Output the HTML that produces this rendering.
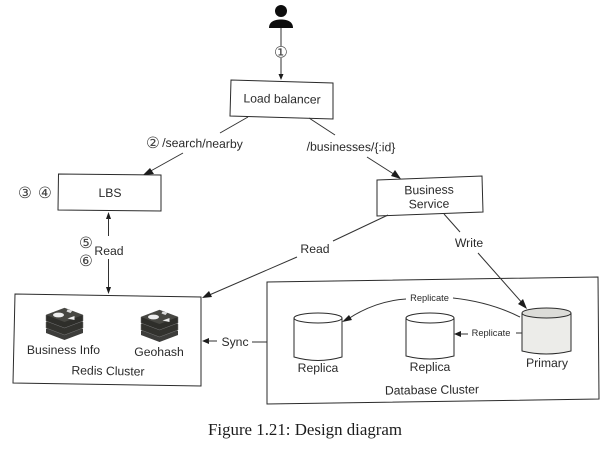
<!DOCTYPE html>
<html><head><meta charset="utf-8"><style>
html,body{margin:0;padding:0;background:#fff}
svg{display:block}
text{font-family:"Liberation Sans",sans-serif;font-size:12.200px;fill:#2a2a2a;text-anchor:middle}
.d{font-family:"DejaVu Sans",sans-serif;font-size:15.500px;fill:#444}
.s{font-size:9.300px}
.c{font-family:"Liberation Serif",serif;font-size:16.500px;fill:#1c1c1c;text-anchor:start}
.b{fill:#fff;stroke:#2c2c2c;stroke-width:1}
.n{fill:none;stroke:#2c2c2c;stroke-width:1}
.l{fill:none;stroke:#333;stroke-width:1}
.a{fill:#1c1c1c}
</style></head><body>
<svg width="615" height="449" viewBox="0 0 615 449" xmlns="http://www.w3.org/2000/svg">
<defs>
<filter id="f" x="-5%" y="-5%" width="110%" height="110%"><feGaussianBlur stdDeviation="0.35"/></filter>
<g id="r">
<path d="M-18.500,6 L0,-1 L18.500,6 V10 L0,17 L-18.500,10Z" fill="#3d3d3a"/>
<path d="M-18.500,-1 L0,-8 L18.500,-1 V5 L0,12 L-18.500,5Z" fill="#33332f" stroke="#777" stroke-width=".5"/>
<path d="M-18.500,-8 L0,-15 L18.500,-8 V-2 L0,5 L-18.500,-2Z" fill="#2f2f2c" stroke="#777" stroke-width=".5"/>
<path d="M-18.500,-8 L0,-15 L18.500,-8 L0,-1Z" fill="#464642"/>
<ellipse cx="-6" cy="-8" rx="5.500" ry="2.400" fill="#eee"/>
<path d="M3,-13.500 l5,1 l-2,2.500 l-4,-1.500Z" fill="#ddd"/>
<path d="M3,-4.500 l7,-2.500 l0,4Z" fill="#eee"/>
</g>
</defs>
<rect width="615" height="449" fill="#fff"/>
<g filter="url(#f)">
<!-- person -->
<circle cx="281" cy="11" r="6" fill="#111"/>
<path d="M269,28 C269,22 274,19.500 281,19.500 C288,19.500 293,22 293,28Z" fill="#111"/>
<path class="l" d="M281,28 V46 M281,58 V74"/>
<path class="a" d="M281,80 l-2.500,-6 h5Z"/>
<text class="d" x="281" y="57.500">①</text>

<!-- boxes -->
<path class="b" d="M231,80 L333,83 L333,119 L230,116Z"/>
<text x="282" y="103" transform="rotate(1 282 100)">Load balancer</text>
<path class="b" d="M58.500,174 L161,175 L161,211 L58,210Z"/>
<text x="110" y="197">LBS</text>
<path class="b" d="M377,180 L482,176 L483,212 L377,216Z"/>
<text x="429" y="194" transform="rotate(-1 429 190)">Business</text>
<text x="429" y="208" transform="rotate(-1 429 204)">Service</text>

<!-- load balancer links -->
<path class="l" d="M248,117 L220,133 M183,153 L148,172.500"/>
<path class="a" d="M143,175 L150,168 L154,174Z"/>
<path class="l" d="M309,118 L335,135 M367,157 L396,175.500"/>
<path class="a" d="M401,179 L391,176 L395,170Z"/>
<text class="d" x="153" y="148">②</text>
<text x="202.500" y="147.500" transform="rotate(1 202 144)">/search/nearby</text>
<text x="351" y="151" transform="rotate(.5 351 147)">/businesses/{:id}</text>
<text class="d" x="25" y="198">③</text>
<text class="d" x="45" y="198">④</text>

<!-- LBS read -->
<path class="a" d="M108.500,212 L106,219 H111Z"/>
<path class="l" d="M108.500,218 V236 M108.500,259 V288"/>
<path class="a" d="M108.500,294 L106,287 H111Z"/>
<text class="d" x="86" y="248">⑤</text>
<text class="d" x="86" y="266">⑥</text>
<text x="109" y="255">Read</text>

<!-- redis -->
<path class="b" d="M15,294 L201,297 L201,386 L13,383Z"/>
<use href="#r" x="64.500" y="323"/>
<use href="#r" x="159.500" y="325"/>
<text x="63.500" y="354">Business Info</text>
<text x="159" y="356">Geohash</text>
<text x="108" y="375" transform="rotate(1 108 371)">Redis Cluster</text>

<!-- BS read -->
<path class="l" d="M388,215 L333,241 M297,257 L207,296"/>
<path class="a" d="M202,298 L209,291 L212,297Z"/>
<text x="315" y="253">Read</text>

<!-- sync -->
<path class="a" d="M202,341 L209,338 V344Z"/>
<path class="l" d="M208,341 H217 M252,342 H267"/>
<text x="235" y="346">Sync</text>

<!-- db cluster -->
<path class="b" d="M267,282 L598,277 L599,399 L267,404Z"/>

<!-- write -->
<path class="l" d="M444,214 L460,232 M478,253 L524,305"/>
<path class="a" d="M527,309 L518,304 L523,299Z"/>
<text x="469" y="247">Write</text>

<!-- cylinders -->
<path class="b" d="M294,318 V357 Q318,364 342,357 V318"/>
<ellipse class="b" cx="318" cy="318" rx="24" ry="5"/>
<path class="b" d="M406,318 V356 Q430,362 454,356 V318"/>
<ellipse class="b" cx="430" cy="318" rx="24" ry="5"/>
<path d="M522,313 V351 Q546,357 571,351 V313" fill="#ecece9" stroke="#2c2c2c" stroke-width="1"/>
<ellipse cx="546.500" cy="313" rx="24.500" ry="5" fill="#dcdcd8" stroke="#2c2c2c" stroke-width="1"/>
<text x="318" y="372">Replica</text>
<text x="430" y="371">Replica</text>
<text x="547" y="367" transform="rotate(.5 547 363)">Primary</text>
<text x="432" y="394" transform="rotate(-.8 432 390)">Database Cluster</text>

<!-- replicate -->
<path class="l" d="M520,317 Q490,302 453,298 M406,299 Q375,301 348,319"/>
<path class="a" d="M342,322 L349,315 L352,320Z"/>
<text class="s" x="429.500" y="301">Replicate</text>
<path class="a" d="M454,334 L461,331 V337Z"/>
<path class="l" d="M460,334 H468 M516,333 H522"/>
<text class="s" x="491" y="336">Replicate</text>

<text class="c" x="208" y="435" textLength="194" lengthAdjust="spacingAndGlyphs">Figure 1.21: Design diagram</text>
</g>
</svg>
</body></html>
